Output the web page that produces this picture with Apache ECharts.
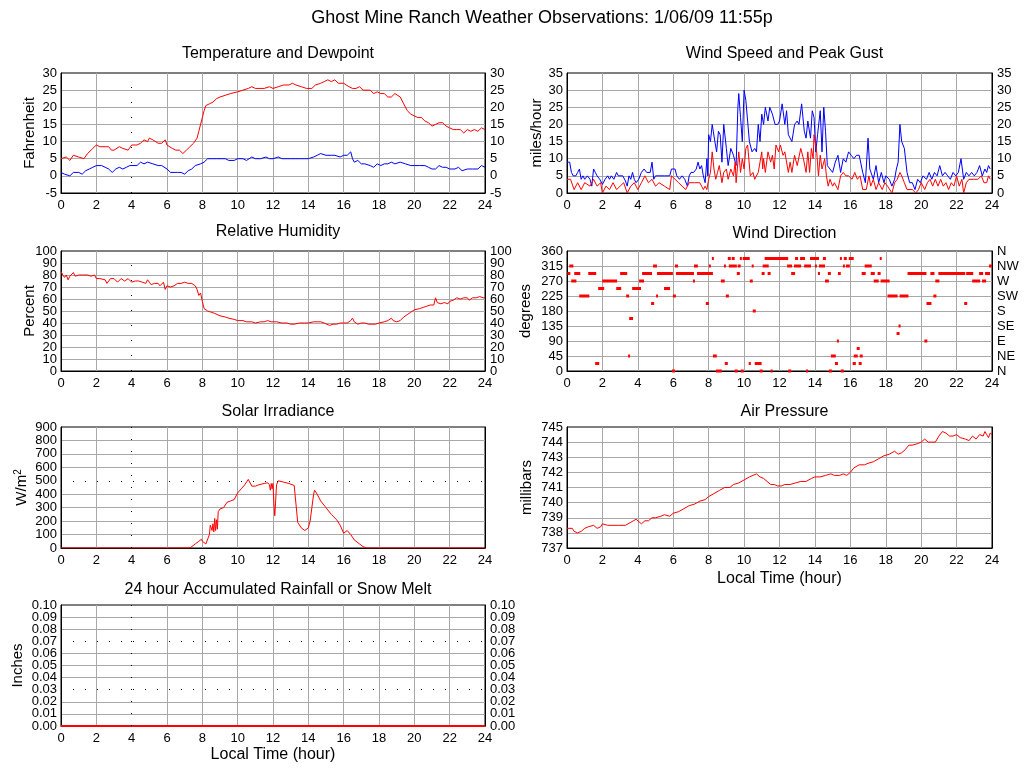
<!DOCTYPE html>
<html><head><meta charset="utf-8">
<script src="https://cdn.jsdelivr.net/npm/echarts@6.0.0/dist/echarts.min.js"></script>
<style>html,body{margin:0;padding:0;background:#fff}#c{width:1024px;height:768px}</style>
</head><body><div id="c"></div>
<script>
// ---------- DATA ----------
const hourTicks = [0,2,4,6,8,10,12,14,16,18,20,22,24];
const compassLabels = ['N','NE','E','SE','S','SW','W','NW','N'];

const temperature = [[0,5],[0.1,5.5],[0.3,5.5],[0.5,4.5],[0.7,6],[1,5.5],[1.3,5],[1.5,6.5],[1.8,8],[2,9],[2.2,8.5],[2.5,8.5],[2.7,8.5],[2.85,7.5],[3,7.5],[3.3,8.5],[3.5,8],[3.8,7.5],[4,9],[4.3,9],[4.5,9.5],[4.7,10.5],[4.9,10],[5,11],[5.2,10.5],[5.5,9.5],[5.7,9.5],[5.9,10.5],[6,9],[6.3,8],[6.5,7.5],[6.7,7.5],[6.9,6.5],[7.1,7.5],[7.3,8.5],[7.5,9.5],[7.7,11],[7.8,13],[7.9,13],[8,17],[8.1,19],[8.2,20.5],[8.4,21],[8.6,21.5],[8.8,22.5],[9,23],[9.3,23.5],[9.6,24],[10,24.5],[10.3,25],[10.6,25.5],[10.8,26],[11,25.5],[11.5,25.5],[11.8,26],[12,25.5],[12.3,26],[12.6,26.5],[12.9,26.5],[13.1,27],[13.3,26.5],[13.6,26],[13.9,25.5],[14.2,25.5],[14.4,26.5],[14.7,27],[14.9,27.5],[15.1,28],[15.3,27.5],[15.5,28],[15.7,27],[16,27],[16.3,26],[16.5,25.5],[16.7,25.5],[16.9,26],[17.1,25],[17.5,25],[17.7,24],[17.9,24.5],[18.1,24],[18.3,24],[18.5,23],[18.7,23],[18.9,24],[19,24.5],[19.2,23],[19.4,21],[19.6,19],[19.8,18],[20,17.5],[20.2,17],[20.4,17],[20.6,16],[20.8,15.5],[21,14.5],[21.2,15],[21.4,15.5],[21.6,15.5],[21.8,14.5],[22,14],[22.2,13.5],[22.4,13.5],[22.6,13.5],[22.8,12.5],[23,13.5],[23.2,13],[23.4,13.5],[23.6,13],[23.8,14],[24,13.5]];

const dewpoint = [[0,1],[0.2,0.5],[0.3,1],[0.5,0],[0.7,1],[1,1],[1.2,0.5],[1.4,1.5],[1.6,2],[1.8,2.5],[2,3],[2.3,3],[2.5,2.5],[2.7,2],[2.9,1],[3.1,2],[3.3,2.5],[3.5,2],[3.7,2.5],[3.9,3],[4,2.5],[4.3,3],[4.5,4],[4.7,3.5],[4.9,4],[5,4.5],[5.2,3.5],[5.5,3],[5.7,3],[5.8,3.5],[6,2],[6.2,1],[6.4,1],[6.6,1],[6.8,1],[7,0.5],[7.2,1.5],[7.4,2],[7.6,3],[7.9,3.5],[8.1,4],[8.3,5],[8.5,5],[8.8,5],[9,5],[9.3,5],[9.5,4.5],[9.8,4.5],[10,5],[10.3,5],[10.5,4.5],[10.8,5.5],[11,5],[11.3,5],[11.6,5.5],[11.8,5],[12,5],[12.3,5.5],[12.5,5],[12.8,5],[13,5],[13.3,5],[13.5,5],[13.8,5],[14,5],[14.3,5.5],[14.5,6],[14.7,6.5],[15,6],[15.3,6],[15.5,6],[15.8,5.5],[16,6],[16.2,6],[16.4,7],[16.5,5],[16.6,4],[16.8,4.5],[16.9,5],[17,3.5],[17.2,3.5],[17.5,3],[17.7,2.5],[17.9,3.5],[18.1,3],[18.3,3.5],[18.5,3.5],[18.7,4],[18.9,3.5],[19.2,4],[19.5,3.5],[19.8,3],[20,3],[20.3,3],[20.6,3],[20.8,2.5],[21,2],[21.2,2],[21.4,3],[21.6,2.5],[21.8,2.5],[22,2],[22.3,2],[22.5,2.5],[22.7,1.5],[23,2],[23.3,2],[23.6,2],[23.8,3],[24,2.5]];

const gust = [[0,9],[0.15,9],[0.25,6],[0.35,5],[0.5,5],[0.6,6],[0.7,7],[0.8,4],[0.9,5],[1.0,4],[1.15,5],[1.3,4],[1.4,2],[1.5,7],[1.6,6],[1.7,5],[1.85,4],[2.0,2.5],[2.15,4],[2.3,5],[2.4,4],[2.5,5],[2.65,4],[2.8,6],[2.9,5],[3.0,5],[3.15,5],[3.3,3.5],[3.4,2],[3.5,5],[3.6,4],[3.7,6],[3.8,4],[3.9,3],[4.05,4],[4.2,6],[4.35,7],[4.5,6],[4.6,6],[4.7,6],[4.8,9],[4.9,4],[5.0,5],[5.5,5],[5.8,5],[5.9,7],[6.1,7],[6.2,5],[6.35,4],[6.5,5],[6.65,4],[6.8,2],[6.9,5],[7.0,6],[7.15,6],[7.3,7],[7.4,9],[7.5,7],[7.6,8],[7.7,5],[7.8,3],[7.9,10],[7.95,5],[8.0,17],[8.1,15],[8.2,20],[8.35,15],[8.45,12],[8.55,18],[8.65,17],[8.75,9],[8.85,20],[9.0,13],[9.1,8],[9.25,13],[9.4,11],[9.55,8],[9.65,25],[9.7,29],[9.8,22],[9.9,15],[10.0,30],[10.1,27],[10.2,27],[10.3,15],[10.45,12],[10.6,13],[10.7,12],[10.8,20],[10.9,15],[11.0,23],[11.1,20],[11.2,25],[11.35,21],[11.45,25],[11.6,23],[11.75,20],[11.9,20],[12.0,21],[12.15,26],[12.3,20],[12.4,24],[12.5,17],[12.7,15],[12.85,20],[13.0,21],[13.1,20],[13.25,26],[13.4,18],[13.5,16],[13.6,21],[13.75,16],[13.85,24],[13.95,22],[14.05,12],[14.15,17],[14.3,24],[14.4,12],[14.5,25],[14.6,18],[14.7,8],[14.85,7],[15.0,6],[15.15,9],[15.3,11],[15.45,6],[15.6,10],[15.75,9],[15.9,12],[16.05,11],[16.2,10],[16.35,11],[16.5,11],[16.7,6],[16.85,3],[17.0,16],[17.1,7],[17.3,4],[17.45,8],[17.6,3],[17.75,6],[17.9,3],[18.0,5],[18.2,4],[18.35,2],[18.5,4],[18.6,7],[18.7,9],[18.8,20],[18.9,15],[19.05,13],[19.2,6],[19.35,3],[19.5,3],[19.65,1],[19.8,4],[19.95,3],[20.1,5],[20.3,4],[20.45,6],[20.6,4],[20.75,6],[20.9,5],[21.05,8],[21.2,5],[21.35,6],[21.5,5],[21.65,4],[21.8,6],[21.95,5],[22.1,6],[22.25,10],[22.4,4],[22.55,6],[22.7,5],[22.85,6],[23.0,5],[23.15,6],[23.3,8],[23.45,5],[23.6,7],[23.7,6],[23.8,8],[23.9,7]];

const windSpeed = [[0,4],[0.2,4],[0.4,1],[0.6,3],[0.8,1],[1.0,3],[1.3,2],[1.5,4],[1.7,2],[1.9,3],[2.0,0],[2.2,2],[2.4,1],[2.6,3],[2.8,1],[3.0,2],[3.2,3],[3.4,0],[3.6,2],[3.8,3],[4.0,1],[4.2,3],[4.4,5],[4.6,3],[4.8,4],[5.0,2],[5.2,3],[5.5,2],[5.8,1],[5.9,5],[6.1,4],[6.3,3],[6.5,2],[6.7,1],[6.9,3],[7.2,3],[7.5,3],[7.6,2],[7.7,1],[7.8,2],[7.9,1],[8.0,4],[8.1,6],[8.2,12],[8.3,7],[8.4,4],[8.5,6],[8.6,8],[8.75,3],[8.85,6],[9.0,7],[9.1,4],[9.25,7],[9.4,5],[9.5,9],[9.55,3],[9.65,9],[9.7,12],[9.8,6],[9.9,10],[10.0,7],[10.1,13],[10.2,14],[10.35,5],[10.5,6],[10.6,4],[10.8,6],[11.0,12],[11.05,7],[11.1,10],[11.2,6],[11.35,12],[11.5,9],[11.6,11],[11.7,7],[11.8,14],[11.95,12],[12.05,14],[12.2,11],[12.3,12],[12.4,9],[12.5,6],[12.6,9],[12.7,6],[12.85,11],[13.0,8],[13.2,13],[13.35,10],[13.5,6],[13.6,12],[13.7,6],[13.8,13],[13.9,10],[13.95,17],[14.1,12],[14.2,5],[14.3,11],[14.4,7],[14.55,10],[14.65,5],[14.75,2],[14.85,4],[15.0,2],[15.1,3],[15.3,1],[15.45,5],[15.6,6],[15.75,5],[15.9,5],[16.1,4],[16.25,6],[16.4,4],[16.55,5],[16.7,1],[16.9,1],[17.05,5],[17.15,2],[17.3,4],[17.45,1],[17.6,3],[17.8,1],[17.95,3],[18.1,2],[18.35,0],[18.5,3],[18.65,4],[18.8,6],[18.9,5],[19.05,3],[19.2,1],[19.5,1],[19.7,0],[19.85,1],[20.0,3],[20.2,1],[20.35,3],[20.5,4],[20.65,2],[20.8,4],[20.95,2],[21.1,4],[21.25,2],[21.4,3],[21.55,1],[21.7,3],[21.85,2],[22.0,5],[22.15,2],[22.3,4],[22.4,0],[22.55,3],[22.7,4],[22.95,4],[23.2,4],[23.4,5],[23.55,3],[23.7,3],[23.8,5],[23.9,4]];

const humidity = [[0,83],[0.1,80],[0.2,78],[0.3,80],[0.4,76],[0.5,79],[0.7,82],[0.8,79],[1.0,80],[1.2,80],[1.3,81],[1.5,80],[1.7,79],[1.9,80],[2.0,77],[2.2,77],[2.3,78],[2.5,76],[2.6,73],[2.8,77],[3.0,77],[3.2,74],[3.4,77],[3.6,75],[3.8,77],[3.9,76],[4.0,74],[4.2,75],[4.4,75],[4.6,74],[4.8,73],[4.9,76],[5.0,74],[5.1,72],[5.3,73],[5.5,73],[5.6,71],[5.8,74],[5.9,68],[6.0,71],[6.2,70],[6.4,71],[6.6,73],[6.8,73],[7.0,74],[7.2,73],[7.4,73],[7.6,71],[7.7,68],[7.8,63],[7.9,65],[8.0,58],[8.1,52],[8.3,50],[8.5,49],[8.7,48],[9.0,46],[9.3,45],[9.5,44],[9.8,43],[10.0,42],[10.3,42],[10.5,41],[10.8,41],[11.0,40],[11.3,41],[11.5,41],[11.7,42],[11.9,41],[12.2,41],[12.5,40],[12.8,40],[13.0,39],[13.2,39],[13.3,38],[13.5,40],[13.8,40],[14.0,40],[14.3,41],[14.5,41],[14.7,41],[14.9,40],[15.0,39],[15.2,38],[15.4,39],[15.6,39],[15.8,40],[16.0,40],[16.2,40],[16.4,42],[16.5,44],[16.6,41],[16.8,39],[17.0,40],[17.2,40],[17.4,39],[17.6,39],[17.8,39],[17.9,40],[18.0,40],[18.3,41],[18.5,42],[18.7,44],[18.8,42],[19.0,41],[19.2,42],[19.4,45],[19.6,47],[19.8,49],[20.0,51],[20.3,52],[20.5,53],[20.7,54],[20.9,55],[21.0,56],[21.1,55],[21.2,61],[21.3,57],[21.5,56],[21.7,57],[21.9,56],[22.0,58],[22.2,59],[22.4,61],[22.6,60],[22.8,61],[23.0,61],[23.1,59],[23.3,61],[23.5,61],[23.7,62],[23.9,61],[24,61]];

// [start hour, end hour, direction in degrees]
const windDirection = [[0.02,0.19,292.5],[0.13,0.36,315],[0.24,0.53,270],[0.41,0.75,292.5],[0.69,1.26,225],[1.2,1.65,292.5],[1.59,1.82,22.5],[1.76,2.1,247.5],[1.99,2.83,270],[2.78,3.06,247.5],[3.0,3.4,292.5],[3.34,3.51,225],[3.45,3.56,45],[3.51,3.73,157.5],[3.68,4.18,247.5],[4.07,4.35,270],[4.24,4.8,292.5],[4.75,4.92,202.5],[4.86,5.08,315],[5.03,5.14,225],[5.08,5.98,292.5],[5.48,5.82,247.5],[5.93,6.1,0],[5.98,6.15,225],[6.1,6.27,315],[6.15,7.17,292.5],[7.11,7.22,270],[7.17,7.39,315],[7.34,8.24,292.5],[7.84,8.01,202.5],[8.01,8.12,315],[8.18,8.27,337.5],[8.24,8.46,45],[8.41,8.74,0],[8.69,8.91,270],[8.86,8.97,315],[8.91,9.08,22.5],[8.97,9.14,225],[9.08,9.25,337.5],[9.14,9.59,315],[9.3,9.47,337.5],[9.47,9.64,0],[9.59,9.76,292.5],[9.64,9.81,315],[9.76,9.87,337.5],[9.81,9.98,0],[9.92,10.32,337.5],[10.26,10.38,22.5],[10.32,10.49,270],[10.43,10.54,315],[10.49,10.66,180],[10.6,10.99,22.5],[10.88,11.05,0],[10.99,11.16,292.5],[11.05,11.39,315],[11.16,12.49,337.5],[11.33,11.5,292.5],[11.5,11.61,0],[12.43,12.71,315],[12.49,12.66,0],[12.66,12.88,292.5],[12.82,13.22,315],[12.88,13.05,337.5],[13.16,13.44,337.5],[13.39,13.78,315],[13.5,13.61,0],[13.72,14.23,337.5],[14.0,14.06,315],[14.17,14.28,292.5],[14.23,14.57,315],[14.45,14.62,337.5],[14.57,14.79,270],[14.73,14.9,292.5],[14.79,14.96,0],[14.9,15.18,45],[15.13,15.3,22.5],[15.24,15.35,90],[15.3,15.46,292.5],[15.41,15.52,337.5],[15.46,15.63,0],[15.58,15.69,315],[15.63,15.8,337.5],[15.75,15.97,315],[15.91,16.19,337.5],[16.13,16.31,22.5],[16.19,16.42,45],[16.36,16.53,67.5],[16.47,16.64,22.5],[16.53,16.7,45],[16.64,16.87,292.5],[16.81,17.21,315],[17.15,17.38,292.5],[17.32,17.6,270],[17.54,17.71,292.5],[17.66,17.77,337.5],[17.71,18.22,270],[18.1,18.67,225],[18.61,18.78,112.5],[18.72,18.84,135],[18.78,19.28,225],[19.23,20.3,292.5],[20.18,20.35,90],[20.3,20.58,202.5],[20.52,20.75,292.5],[20.69,20.86,225],[20.8,21.03,270],[20.97,22.49,292.5],[22.43,22.6,202.5],[22.54,22.94,292.5],[22.88,23.33,270],[23.27,23.5,292.5],[23.44,23.67,270],[23.61,23.89,292.5],[23.83,24.0,315]];

const solar = [[0,0],[7.3,0],[7.4,10],[7.6,30],[7.8,50],[7.95,65],[8.0,50],[8.1,55],[8.2,30],[8.3,40],[8.4,100],[8.45,170],[8.5,180],[8.55,130],[8.6,180],[8.65,120],[8.7,220],[8.75,130],[8.8,210],[8.85,140],[8.9,270],[9.0,290],[9.2,300],[9.4,340],[9.6,350],[9.8,360],[10.0,410],[10.2,440],[10.4,470],[10.6,510],[10.8,460],[11.0,460],[11.2,470],[11.5,480],[11.7,485],[11.8,470],[11.85,430],[11.9,480],[11.95,440],[12.0,480],[12.05,330],[12.1,240],[12.15,350],[12.2,470],[12.3,500],[12.6,490],[12.9,480],[13.2,465],[13.3,470],[13.4,190],[13.6,150],[13.8,130],[14.0,150],[14.1,200],[14.2,300],[14.3,400],[14.35,430],[14.5,400],[14.7,350],[15.0,300],[15.3,250],[15.6,210],[15.8,170],[16.0,110],[16.2,130],[16.3,135],[16.4,100],[16.6,60],[16.9,30],[17.1,10],[17.3,0],[24,0]];

const pressure = [[0,738.3],[0.3,738.3],[0.4,738.1],[0.6,738.0],[0.8,738.1],[1.0,738.3],[1.2,738.4],[1.5,738.5],[1.7,738.3],[1.9,738.4],[2.0,738.6],[2.3,738.5],[2.6,738.5],[2.9,738.5],[3.0,738.4],[3.3,738.5],[3.6,738.7],[3.9,738.9],[4.0,738.9],[4.2,738.6],[4.4,738.8],[4.6,738.8],[4.8,739.0],[5.0,739.0],[5.3,739.1],[5.5,739.2],[5.8,739.1],[6.0,739.3],[6.3,739.4],[6.6,739.6],[6.9,739.8],[7.2,739.9],[7.5,740.1],[7.8,740.2],[8.0,740.4],[8.3,740.6],[8.6,740.8],[8.9,741.0],[9.0,741.1],[9.2,741.0],[9.4,741.2],[9.7,741.3],[10.0,741.5],[10.3,741.7],[10.5,741.8],[10.7,741.9],[10.9,741.7],[11.1,741.6],[11.3,741.4],[11.5,741.2],[11.7,741.2],[11.9,741.1],[12.1,741.1],[12.3,741.2],[12.6,741.2],[12.9,741.3],[13.2,741.4],[13.5,741.4],[13.8,741.6],[14.0,741.7],[14.3,741.7],[14.6,741.8],[14.9,741.9],[15.1,741.8],[15.4,741.8],[15.6,741.9],[15.8,741.8],[16.0,742.0],[16.2,742.3],[16.5,742.5],[16.8,742.5],[17.0,742.6],[17.3,742.7],[17.6,742.9],[17.9,743.1],[18.2,743.2],[18.5,743.4],[18.7,743.2],[18.9,743.3],[19.1,743.5],[19.3,743.8],[19.5,743.8],[19.8,743.9],[20.0,744.0],[20.2,744.2],[20.4,744.0],[20.6,744.0],[20.8,744.0],[21.0,744.4],[21.2,744.7],[21.4,744.6],[21.6,744.4],[21.8,744.4],[22.0,744.5],[22.2,744.3],[22.5,744.2],[22.7,744.1],[22.9,744.4],[23.1,744.2],[23.3,744.5],[23.5,744.4],[23.6,744.7],[23.7,744.5],[23.8,744.3],[23.9,744.6],[24,744.5]];

const rainfall = [[0,0],[24,0]];

// ---------- STYLE ----------
const FONT = '"Liberation Sans", Arial, Helvetica, sans-serif';
const GRIDC = '#a8a8a8';
const RED = '#ff0000', BLUE = '#0000ff';

const panels = [
  {title:'Temperature and Dewpoint', left:61, top:73, width:424, height:120, tOff:32},
  {title:'Wind Speed and Peak Gust', left:567, top:73, width:425, height:120, tOff:32},
  {title:'Relative Humidity', left:61, top:251, width:424, height:120, tOff:32},
  {title:'Wind Direction', left:567, top:251, width:425, height:120, tOff:30},
  {title:'Solar Irradiance', left:61, top:427, width:424, height:121, tOff:28},
  {title:'Air Pressure', left:567, top:427, width:425, height:121, tOff:28},
  {title:'24 hour Accumulated Rainfall or Snow Melt', left:61, top:605, width:424, height:121, tOff:28}
];

function lineColors(n, hidden) {
  const a = [];
  for (let i = 0; i < n; i++) a.push(hidden.indexOf(i) >= 0 ? 'rgba(0,0,0,0)' : GRIDC);
  return a;
}

const grids = panels.map(p => ({left:p.left, top:p.top, width:p.width, height:p.height,
  show:true, borderColor:'#000', borderWidth:1, backgroundColor:'#fff', containLabel:false}));

const titles = [{text:'Ghost Mine Ranch Weather Observations: 1/06/09 11:55p', left:537, top:4, textAlign:'center',
  textStyle:{fontFamily:FONT, fontSize:18, fontWeight:'normal', color:'#000'}}]
  .concat(panels.map(p => ({text:p.title, left:p.left + p.width/2, top:p.top - p.tOff, textAlign:'center',
    textStyle:{fontFamily:FONT, fontSize:16, fontWeight:'normal', color:'#000'}})));

const leftPanel = [true,false,true,false,true,false,true];
const xAxes = panels.map((p, i) => ({
  gridIndex:i, type:'value', min:0, max:24, interval:2,
  axisLine:{show:true, onZero:false, lineStyle:{color:'#000', width:1}},
  axisTick:{show:false},
  axisLabel:{color:'#000', fontSize:13, fontFamily:FONT, margin:6, showMinLabel:true, showMaxLabel:true},
  splitLine:{show:true, showMinLine:false, showMaxLine:false,
    lineStyle:{color: lineColors(12, leftPanel[i] ? [1] : []), width:1}},
  name: (i === 5 || i === 6) ? 'Local Time (hour)' : '',
  nameLocation:'middle', nameGap: i === 5 ? 23 : 21,
  nameTextStyle:{color:'#000', fontSize:16, fontFamily:FONT}
}));

const yAxes = [];
function addY(cfg) { yAxes.push(cfg); return yAxes.length - 1; }

function yLabel(extra) {
  return Object.assign({color:'#000', fontSize:13, fontFamily:FONT, showMinLabel:true, showMaxLabel:true, hideOverlap:false}, extra || {});
}
function yLeft(gi, min, max, interval, name, nameGap, opts) {
  return addY(Object.assign({
    gridIndex:gi, type:'value', position:'left', min, max, interval,
    axisLine:{show:true, onZero:false, lineStyle:{color:'#000', width:1}},
    axisTick:{show:false},
    axisLabel:yLabel({margin:4}),
    splitLine:{show:true, showMinLine:false, showMaxLine:false, lineStyle:{color:GRIDC, width:1}},
    name, nameLocation:'middle', nameGap, nameRotate:90,
    nameTextStyle:{color:'#000', fontSize:15, fontFamily:FONT}
  }, opts || {}));
}
function yRight(gi, min, max, interval, showLabels, formatter, labelExtra) {
  return addY({
    gridIndex:gi, type:'value', position:'right', min, max, interval,
    axisLine:{show:true, onZero:false, lineStyle:{color:'#000', width:1}},
    axisTick:{show:false},
    axisLabel:yLabel(Object.assign({show:showLabels, margin:5, formatter}, labelExtra || {})),
    splitLine:{show:false}
  });
}
// helper axis that only carries the end labels (min and max) of a dense scale
function yEnds(gi, min, max, position, margin, formatter) {
  return addY({
    gridIndex:gi, type:'value', position, min, max, interval:max - min,
    axisLine:{show:false}, axisTick:{show:false}, splitLine:{show:false},
    axisLabel:yLabel({margin, formatter})
  });
}
const fmt2 = v => v.toFixed(2);
const inner = {showMinLabel:false, showMaxLabel:false};

const yTemp = yLeft(0, -5, 30, 5, 'Fahrenheit', 24); yRight(0, -5, 30, 5, true);
const yWind = yLeft(1, 0, 35, 5, 'miles/hour', 22); yRight(1, 0, 35, 5, true);
const yHum = yLeft(2, 0, 100, 10, 'Percent', 24, {axisLabel:yLabel(Object.assign({margin:4}, inner))});
yRight(2, 0, 100, 10, true, undefined, inner);
yEnds(2, 0, 100, 'left', 4); yEnds(2, 0, 100, 'right', 5);
const yDir = yLeft(3, 0, 360, 45, 'degrees', 34);
yRight(3, 0, 360, 45, true, v => compassLabels[Math.round(v/45)]);
const ySolar = yLeft(4, 0, 900, 100, 'W/m{s|2}', 30, {
  splitLine:{show:true, showMinLine:false, showMaxLine:false, lineStyle:{color:lineColors(9,[4]), width:1}},
  nameTextStyle:{color:'#000', fontSize:15, fontFamily:FONT, rich:{s:{fontSize:10, fontFamily:FONT, color:'#000', verticalAlign:'top', padding:[0,0,8,0]}}}
});
yRight(4, 0, 900, 100, false);
const yPres = yLeft(5, 737, 745, 1, 'millibars', 33); yRight(5, 737, 745, 1, false);
const yRain = yLeft(6, 0, 0.1, 0.01, 'Inches', 36, {
  axisLabel:yLabel(Object.assign({margin:4, formatter:fmt2}, inner)),
  splitLine:{show:true, showMinLine:false, showMaxLine:false, lineStyle:{color:lineColors(10,[2,6]), width:1}}
});
yRight(6, 0, 0.1, 0.01, true, fmt2, inner);
yEnds(6, 0, 0.1, 'left', 4, fmt2); yEnds(6, 0, 0.1, 'right', 5, fmt2);

function dotted(data, dash) {
  return {symbol:'none', silent:true, animation:false, label:{show:false},
    lineStyle:{color:'#000', type:dash, width:1}, emphasis:{disabled:true}, data};
}
function line(gi, yi, data, color, extra) {
  return Object.assign({type:'line', xAxisIndex:gi, yAxisIndex:yi, data, showSymbol:false, symbol:'none',
    lineStyle:{color, width:1}, itemStyle:{color}, animation:false, silent:true, z:3}, extra || {});
}

const series = [
  line(0, yTemp, temperature, RED, {markLine: dotted([{xAxis:4}], [1,14])}),
  line(0, yTemp, dewpoint, BLUE),
  line(1, yWind, gust, BLUE),
  line(1, yWind, windSpeed, RED),
  line(2, yHum, humidity, RED, {markLine: dotted([{xAxis:4}], [1,14])}),
  {
    type:'custom', xAxisIndex:3, yAxisIndex:yDir, data:windDirection, animation:false, silent:true, z:3,
    encode:{x:[0,1], y:2},
    renderItem: function (params, api) {
      const s = api.coord([api.value(0), api.value(2)]);
      const e = api.coord([api.value(1), api.value(2)]);
      return {type:'rect', shape:{x:s[0], y:s[1]-1.5, width:Math.max(e[0]-s[0], 2), height:3},
        style:{fill:RED}};
    }
  },
  line(4, ySolar, solar, RED, {markLine: dotted([{xAxis:4}, {yAxis:500}], [1,11])}),
  line(5, yPres, pressure, RED),
  line(6, yRain, rainfall, RED, {lineStyle:{color:RED, width:2},
    markLine: dotted([{xAxis:4}, {yAxis:0.07}, {yAxis:0.03}], [1,11])})
];

const chart = echarts.init(document.getElementById('c'), null, {renderer:'canvas'});
chart.setOption({
  backgroundColor:'#fff', animation:false,
  title: titles, grid: grids, xAxis: xAxes, yAxis: yAxes, series
});
</script></body></html>
